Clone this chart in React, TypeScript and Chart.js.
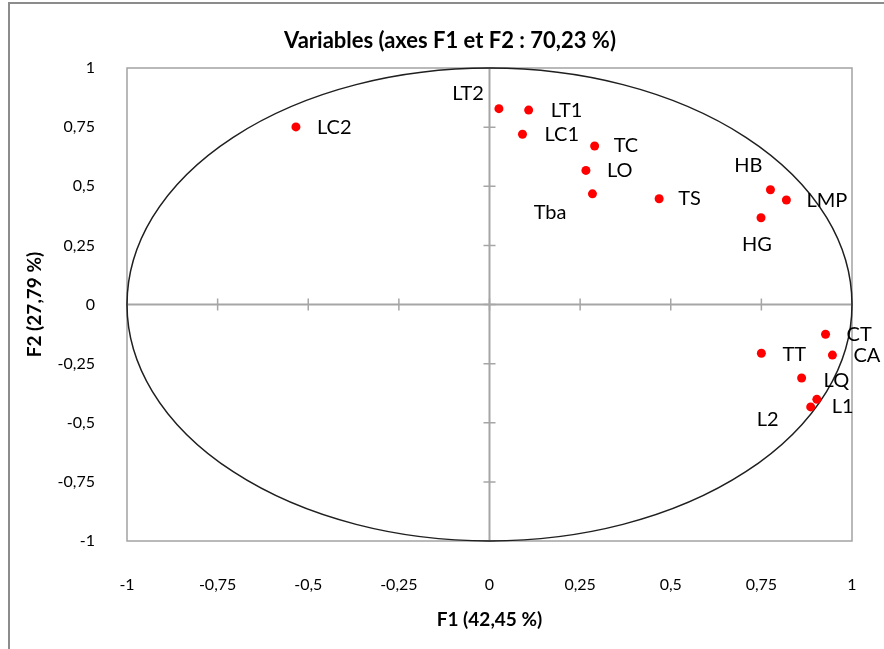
import React, { useEffect, useRef } from 'react';
import { Chart, registerables } from 'chart.js';

Chart.register(...registerables);

// ---- Data ----
const variableNames = ['LC2', 'LT2', 'LT1', 'LC1', 'TC', 'LO', 'Tba', 'TS', 'HB', 'LMP', 'HG', 'CT', 'TT', 'CA', 'LQ', 'L1', 'L2'];
const f1Values = [-0.534, 0.026, 0.108, 0.091, 0.290, 0.266, 0.284, 0.468, 0.775, 0.819, 0.749, 0.927, 0.750, 0.946, 0.861, 0.903, 0.886];
const f2Values = [0.751, 0.828, 0.822, 0.720, 0.670, 0.567, 0.468, 0.447, 0.485, 0.442, 0.367, -0.126, -0.206, -0.214, -0.311, -0.401, -0.433];
const axisTicks = [-1, -0.75, -0.5, -0.25, 0, 0.25, 0.5, 0.75, 1];

const chartTitle = 'Variables (axes F1 et F2 : 70,23 %)';
const xTitle = 'F1 (42,45 %)';
const yTitle = 'F2 (27,79 %)';

// label placement (style): [dx, dy, textAlign]
const labelPlacement: Array<[number, number, CanvasTextAlign]> = [
  [21, 1, 'left'],     // LC2
  [-15, -15, 'right'], // LT2
  [22, 0, 'left'],     // LT1
  [22, 0, 'left'],     // LC1
  [19, 0, 'left'],     // TC
  [21, 0, 'left'],     // LO
  [-26, 19, 'right'],  // Tba
  [19, 0, 'left'],     // TS
  [-8, -24, 'right'],  // HB
  [20, 1, 'left'],     // LMP
  [-4, 27, 'center'],  // HG
  [21, 0, 'left'],     // CT
  [21, 1, 'left'],     // TT
  [21, 0, 'left'],     // CA
  [22, 2, 'left'],     // LQ
  [15, 7, 'left'],     // L1
  [-32, 13, 'right'],  // L2
];

const FONT = 'Lato, "Open Sans", sans-serif';
const fmt = (v: number) => String(v).replace('.', ',');

const decorPlugin = {
  id: 'decor',
  beforeDatasetsDraw(chart: any) {
    const { ctx, chartArea, scales } = chart;
    const xs = scales.x;
    const ys = scales.y;
    ctx.save();
    // plot border
    ctx.strokeStyle = '#a3a3a3';
    ctx.lineWidth = 1.5;
    ctx.strokeRect(chartArea.left, chartArea.top, chartArea.right - chartArea.left, chartArea.bottom - chartArea.top);
    // zero axes
    const x0 = xs.getPixelForValue(0);
    const y0 = ys.getPixelForValue(0);
    ctx.strokeStyle = '#a6a6a6';
    ctx.lineWidth = 2;
    ctx.beginPath();
    ctx.moveTo(chartArea.left, y0);
    ctx.lineTo(chartArea.right, y0);
    ctx.moveTo(x0, chartArea.top);
    ctx.lineTo(x0, chartArea.bottom);
    ctx.stroke();
    // crossing tick marks
    ctx.lineWidth = 1.5;
    ctx.beginPath();
    axisTicks.forEach((v) => {
      const px = xs.getPixelForValue(v);
      ctx.moveTo(px, y0 - 6);
      ctx.lineTo(px, y0 + 6);
      const py = ys.getPixelForValue(v);
      ctx.moveTo(x0 - 6, py);
      ctx.lineTo(x0 + 6, py);
    });
    ctx.stroke();
    // correlation circle (radius 1 in data units)
    const rx = xs.getPixelForValue(1) - x0;
    const ry = y0 - ys.getPixelForValue(1);
    ctx.strokeStyle = '#1f1f1f';
    ctx.lineWidth = 1.5;
    ctx.beginPath();
    ctx.ellipse(x0, y0, rx, ry, 0, 0, Math.PI * 2);
    ctx.stroke();
    ctx.restore();
  },
  afterDatasetsDraw(chart: any) {
    const { ctx } = chart;
    const meta = chart.getDatasetMeta(0);
    ctx.save();
    ctx.font = `20px ${FONT}`;
    ctx.fillStyle = '#000';
    ctx.textBaseline = 'middle';
    meta.data.forEach((pt: any, i: number) => {
      const [dx, dy, align] = labelPlacement[i];
      ctx.textAlign = align;
      ctx.fillText(variableNames[i], pt.x + dx, pt.y + dy);
    });
    // chart title (centred on the whole chart frame)
    ctx.font = `bold 22px ${FONT}`;
    ctx.textAlign = 'center';
    ctx.fillText(chartTitle, 450, 41);
    ctx.restore();
  },
};

export default function App() {
  const ref = useRef<HTMLCanvasElement>(null);
  useEffect(() => {
    if (!ref.current) return;
    const chart = new Chart(ref.current, {
      type: 'scatter',
      data: {
        datasets: [
          {
            label: 'Variables',
            data: f1Values.map((x, i) => ({ x, y: f2Values[i] })),
            backgroundColor: '#ff0000',
            borderColor: '#ff0000',
            borderWidth: 0,
            pointRadius: 4.5,
          },
        ],
      },
      options: {
        responsive: false,
        animation: false,
        devicePixelRatio: 1,
        layout: { padding: { left: 0, right: 48, top: 68, bottom: 0 } },
        plugins: {
          legend: { display: false },
          tooltip: { enabled: false },
          title: { display: false },
        },
        scales: {
          x: {
            type: 'linear',
            position: 'bottom',
            min: -1,
            max: 1,
            afterBuildTicks: (s: any) => {
              s.ticks = axisTicks.map((v) => ({ value: v }));
            },
            afterFit: (s: any) => {
              s.height = 108;
            },
            grid: { display: false },
            border: { display: false },
            ticks: {
              padding: 26.4,
              color: '#000',
              font: { family: FONT, size: 16 },
              maxRotation: 0,
              callback: (v: any) => fmt(v),
            },
            title: {
              display: true,
              text: xTitle,
              color: '#000',
              font: { family: FONT, size: 19, weight: 'bold' },
              padding: { top: 0, bottom: 17.6 },
            },
          },
          y: {
            type: 'linear',
            position: 'left',
            min: -1,
            max: 1,
            afterBuildTicks: (s: any) => {
              s.ticks = axisTicks.map((v) => ({ value: v }));
            },
            afterFit: (s: any) => {
              s.width = 127;
            },
            grid: { display: false },
            border: { display: false },
            ticks: {
              padding: 24,
              color: '#000',
              font: { family: FONT, size: 16 },
              callback: (v: any) => fmt(v),
            },
            title: {
              display: true,
              text: yTitle,
              color: '#000',
              font: { family: FONT, size: 19, weight: 'bold' },
              padding: { top: 23.6, bottom: 0 },
            },
          },
        },
      },
      plugins: [decorPlugin],
    } as any);
    return () => chart.destroy();
  }, []);

  return (
    <div style={{ position: 'fixed', left: 0, top: 0, width: 884, height: 649, overflow: 'hidden', background: '#fff' }}>
      <div
        style={{
          position: 'absolute',
          left: 8,
          top: 2,
          width: 920,
          height: 720,
          border: '2px solid #8c8c8c',
        }}
      />
      <canvas ref={ref} width={900} height={649} style={{ position: 'absolute', left: 0, top: 0, width: 900, height: 649 }} />
    </div>
  );
}
